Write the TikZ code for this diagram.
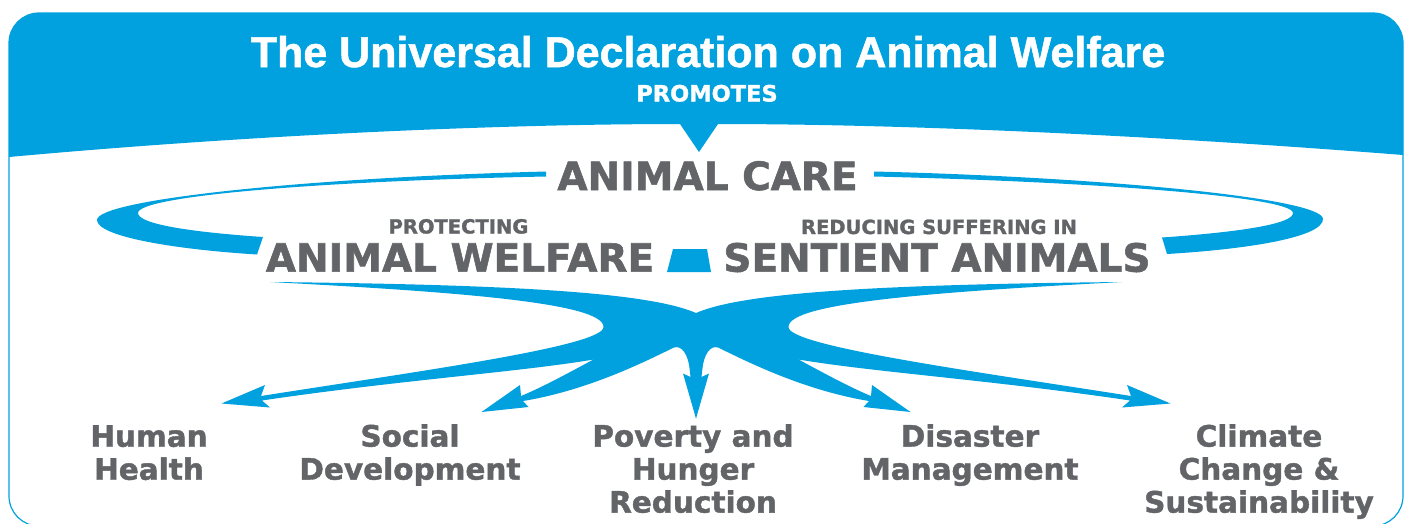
\documentclass[tikz,border=0pt]{standalone}
\usepackage{fontspec}
\setmainfont{DejaVu Sans}[BoldFeatures={FakeBold=1.4}]
\newfontfamily\headfont{Liberation Sans}[BoldFeatures={FakeBold=1.2}]
\definecolor{udblue}{RGB}{0,161,222}
\definecolor{txtgray}{RGB}{99,100,103}

\tikzset{
  titletext/.style={text=white, font=\headfont\bfseries\fontsize{43}{48}\selectfont, inner sep=0pt, anchor=base},
  promotext/.style={text=white, font=\bfseries\fontsize{22.5}{26}\selectfont, inner sep=0pt, anchor=base},
  bigcap/.style={text=txtgray, font=\bfseries\fontsize{39}{44}\selectfont, inner sep=0pt, anchor=base},
  smallcap/.style={text=txtgray, font=\bfseries\fontsize{19.5}{22}\selectfont, inner sep=0pt, anchor=base},
  goal/.style={text=txtgray, font=\bfseries\fontsize{29.5}{33}\selectfont, align=center, inner sep=0pt, anchor=north},
  swoosh/.style={fill=udblue, draw=none}
}

% left half of the fan, mirrored for the right half
\newcommand{\fanhalf}{(696,313)
  .. controls (650,293) and (520,284.5) .. (270,282)
  .. controls (460,292) and (604,303) .. (603.5,327)
  .. controls (604,346) and (420,371) .. (261,396)
  -- (265,385) -- (221.5,403.5) -- (270,407.5) -- (262,400.5)
  .. controls (400,380) and (520,372) .. (593.5,359.5)
  .. controls (570,372) and (545,386) .. (521,396)
  -- (520,385) -- (481.5,412) -- (528.5,407) -- (523,401)
  .. controls (590,390) and (648,360) .. (674,347.5)
  .. controls (682,345) and (688,355) .. (689.5,368)
  -- (690.5,377) -- (683,373.5) -- (696,418.5)
  -- (697,400) -- (697,320) -- cycle}

\begin{document}
\begin{tikzpicture}[x=1pt,y=-1pt]
  \useasboundingbox (0,0) rectangle (1409,523);

  % header band with the pointer
  \begin{scope}
    \clip (9,0) -- (9,157) .. controls (250,135) and (500,124) .. (680,124)
      -- (699,152) -- (718,124) .. controls (900,124) and (1150,135) .. (1403,155)
      -- (1403,0) -- cycle;
    \fill[udblue, rounded corners=30pt] (9,13) rectangle (1403,200);
  \end{scope}
  \draw[udblue, line width=1.2pt, rounded corners=30pt] (9,13) rectangle (1403,526);

  \node[titletext] (title) at (708,67) {The Universal Declaration on Animal Welfare};
  \node[promotext] (promotes) at (707,101.5) {PROMOTES};

  % ring round animal care
  \fill[swoosh] (546,171.5) .. controls (300,178) and (97,200) .. (97,220)
    .. controls (97,236) and (170,249) .. (257,254.5) -- (263,237)
    .. controls (190,232) and (138,224) .. (138,213)
    .. controls (138,196) and (320,181) .. (546,176.5) -- cycle;
  \fill[swoosh] (874,171.5) .. controls (1100,177) and (1323,198) .. (1323,219)
    .. controls (1323,237) and (1250,249) .. (1167,254) -- (1162,237.5)
    .. controls (1240,232) and (1293,224) .. (1293,213)
    .. controls (1293,197) and (1100,182) .. (874,176.5) -- cycle;
  \node[bigcap] (care) at (707.5,190) {ANIMAL CARE};

  \node[smallcap] (protecting) at (458.5,233.5) {PROTECTING};
  \node[smallcap] (reducing) at (939,234) {REDUCING SUFFERING IN};
  \node[bigcap] (welfare) at (460,271.7) {ANIMAL WELFARE};
  \node[bigcap] (sentient) at (937,271.7) {SENTIENT ANIMALS};
  \fill[swoosh] (673,249) -- (707,249) -- (711,272) -- (667,272) -- cycle;

  % the fan of arrows
  \foreach \side/\sh in {1/0,-1/1392}
    \fill[swoosh, xshift=\sh pt, xscale=\side] \fanhalf;

  \node[goal] (health) at (149,425) {Human\\Health};
  \node[goal] (social) at (410,424) {Social\\Development};
  \node[goal] (poverty) at (693,424) {Poverty and\\Hunger\\Reduction};
  \node[goal] (disaster) at (970,424) {Disaster\\Management};
  \node[goal] (climate) at (1259,424) {Climate\\Change \&\\Sustainability};
\end{tikzpicture}
\end{document}
